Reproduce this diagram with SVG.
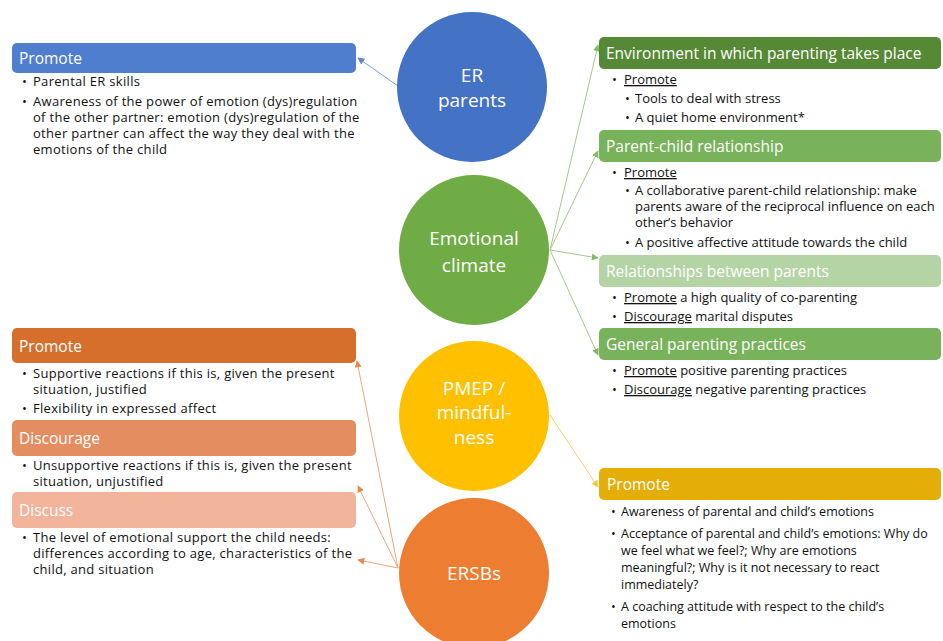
<svg xmlns="http://www.w3.org/2000/svg" width="943" height="641" viewBox="0 0 943 641">
<style>
.t{font-family:"Open Sans","Liberation Sans",Arial,sans-serif;font-size:13px;fill:#111}
.l{font-size:13px;letter-spacing:0.3px}
.y{font-size:12.5px}
.h{font-family:"Open Sans","Liberation Sans",Arial,sans-serif;font-size:15.5px;fill:#fff}
.c{font-family:"Open Sans","Liberation Sans",Arial,sans-serif;font-size:19px;fill:#fff;text-anchor:middle}
.u{text-decoration:underline}
.ln{fill:none;stroke-width:1}
</style>
<defs>
<marker id="ab" viewBox="0 0 10 10" refX="9" refY="5" markerWidth="7" markerHeight="7" orient="auto"><path d="M0,0L10,5L0,10z" fill="#5B86D0"/></marker>
<marker id="ag" viewBox="0 0 10 10" refX="9" refY="5" markerWidth="7" markerHeight="7" orient="auto"><path d="M0,0L10,5L0,10z" fill="#86B86A"/></marker>
<marker id="ay" viewBox="0 0 10 10" refX="9" refY="5" markerWidth="7" markerHeight="7" orient="auto"><path d="M0,0L10,5L0,10z" fill="#F5C540"/></marker>
<marker id="ao" viewBox="0 0 10 10" refX="9" refY="5" markerWidth="7" markerHeight="7" orient="auto"><path d="M0,0L10,5L0,10z" fill="#E8894A"/></marker>
</defs>
<rect width="943" height="641" fill="#fff"/>

<g id="connectors">
<line class="ln" x1="398" y1="86" x2="358" y2="58" stroke="#7E9ED8" marker-end="url(#ab)"/>
<line class="ln" x1="550" y1="250" x2="598" y2="45" stroke="#A6C890" marker-end="url(#ag)"/>
<line class="ln" x1="550" y1="250" x2="598" y2="151" stroke="#A6C890" marker-end="url(#ag)"/>
<line class="ln" x1="550" y1="250" x2="598" y2="258" stroke="#A6C890" marker-end="url(#ag)"/>
<line class="ln" x1="550" y1="250" x2="598" y2="355" stroke="#A6C890" marker-end="url(#ag)"/>
<line class="ln" x1="550" y1="415" x2="598" y2="487" stroke="#F7CF60" marker-end="url(#ay)"/>
<line class="ln" x1="398" y1="568" x2="357" y2="361" stroke="#EDA678" marker-end="url(#ao)"/>
<line class="ln" x1="398" y1="568" x2="358" y2="486" stroke="#EDA678" marker-end="url(#ao)"/>
<line class="ln" x1="398" y1="568" x2="358" y2="560" stroke="#EDA678" marker-end="url(#ao)"/>
</g>

<g id="er-parents">
<circle cx="472" cy="87" r="75" fill="#4472C4"/>
<text class="c" x="472" y="82">ER</text>
<text class="c" x="472" y="107">parents</text>
</g>
<g id="emotional-climate">
<circle cx="474" cy="250" r="75" fill="#6FAC46"/>
<text class="c" x="474" y="245">Emotional</text>
<text class="c" x="474" y="272">climate</text>
</g>
<g id="pmep">
<circle cx="474" cy="416" r="75" fill="#FFC000"/>
<text class="c" x="474" y="395">PMEP /</text>
<text class="c" x="474" y="419">mindful-</text>
<text class="c" x="474" y="444">ness</text>
</g>
<g id="ersbs">
<circle cx="474" cy="573" r="75" fill="#ED7D31"/>
<text class="c" x="474" y="580">ERSBs</text>
</g>

<g id="er-promote">
<rect x="12" y="43" width="344" height="30" rx="5" fill="#4F7ECE"/>
<text class="h" x="19" y="64">Promote</text>
<text class="t l" x="22" y="86">•</text><text class="t l" x="33" y="86">Parental ER skills</text>
<text class="t l" x="22" y="106">•</text><text class="t l" x="33" y="106">Awareness of the power of emotion (dys)regulation</text>
<text class="t l" x="33" y="122">of the other partner: emotion (dys)regulation of the</text>
<text class="t l" x="33" y="138">other partner can affect the way they deal with the</text>
<text class="t l" x="33" y="154">emotions of the child</text>
</g>

<g id="environment">
<rect x="599" y="37" width="342" height="32" rx="5" fill="#568935"/>
<text class="h" x="606" y="59">Environment in which parenting takes place</text>
<text class="t" x="612" y="84">•</text><text class="t u" x="624" y="84">Promote</text>
<text class="t" x="625" y="103">•</text><text class="t" x="635" y="103">Tools to deal with stress</text>
<text class="t" x="625" y="122">•</text><text class="t" x="635" y="122">A quiet home environment*</text>
</g>

<g id="parent-child">
<rect x="599" y="130" width="342" height="32" rx="5" fill="#78B25A"/>
<text class="h" x="606" y="152">Parent-child relationship</text>
<text class="t" x="612" y="177">•</text><text class="t u" x="624" y="177">Promote</text>
<text class="t" x="625" y="195">•</text><text class="t" x="635" y="195">A collaborative parent-child relationship: make</text>
<text class="t" x="635" y="211">parents aware of the reciprocal influence on each</text>
<text class="t" x="635" y="227">other’s behavior</text>
<text class="t" x="625" y="247">•</text><text class="t" x="635" y="247">A positive affective attitude towards the child</text>
</g>

<g id="relationships">
<rect x="599" y="255" width="342" height="32" rx="5" fill="#B5D4A5"/>
<text class="h" x="606" y="277">Relationships between parents</text>
<text class="t" x="612" y="302">•</text><text class="t" x="624" y="302"><tspan class="u">Promote</tspan> a high quality of co-parenting</text>
<text class="t" x="612" y="321">•</text><text class="t" x="624" y="321"><tspan class="u">Discourage</tspan> marital disputes</text>
</g>

<g id="general">
<rect x="599" y="328" width="342" height="32" rx="5" fill="#78B25A"/>
<text class="h" x="606" y="350">General parenting practices</text>
<text class="t" x="612" y="375">•</text><text class="t" x="624" y="375"><tspan class="u">Promote</tspan> positive parenting practices</text>
<text class="t" x="612" y="394">•</text><text class="t" x="624" y="394"><tspan class="u">Discourage</tspan> negative parenting practices</text>
</g>

<g id="pmep-promote">
<rect x="599" y="468" width="342" height="32" rx="5" fill="#E5AD07"/>
<text class="h" x="607" y="490">Promote</text>
<text class="t y" x="611" y="516">•</text><text class="t y" x="621" y="516">Awareness of parental and child’s emotions</text>
<text class="t y" x="611" y="538">•</text><text class="t y" x="621" y="538">Acceptance of parental and child’s emotions: Why do</text>
<text class="t y" x="621" y="555">we feel what we feel?; Why are emotions</text>
<text class="t y" x="621" y="572">meaningful?; Why is it not necessary to react</text>
<text class="t y" x="621" y="589">immediately?</text>
<text class="t y" x="611" y="611">•</text><text class="t y" x="621" y="611">A coaching attitude with respect to the child’s</text>
<text class="t y" x="621" y="628">emotions</text>
</g>

<g id="ersb-promote">
<rect x="12" y="328" width="344" height="35" rx="5" fill="#D76F2C"/>
<text class="h" x="19" y="352">Promote</text>
<text class="t l" x="22" y="378">•</text><text class="t l" x="33" y="378">Supportive reactions if this is, given the present</text>
<text class="t l" x="33" y="394">situation, justified</text>
<text class="t l" x="22" y="413">•</text><text class="t l" x="33" y="413">Flexibility in expressed affect</text>
</g>

<g id="ersb-discourage">
<rect x="12" y="420" width="344" height="36" rx="5" fill="#E48D60"/>
<text class="h" x="19" y="444">Discourage</text>
<text class="t l" x="22" y="470">•</text><text class="t l" x="33" y="470">Unsupportive reactions if this is, given the present</text>
<text class="t l" x="33" y="486">situation, unjustified</text>
</g>

<g id="ersb-discuss">
<rect x="12" y="492" width="344" height="36" rx="5" fill="#F2B49B"/>
<text class="h" x="19" y="516">Discuss</text>
<text class="t l" x="22" y="542">•</text><text class="t l" x="33" y="542">The level of emotional support the child needs:</text>
<text class="t l" x="33" y="558">differences according to age, characteristics of the</text>
<text class="t l" x="33" y="574">child, and situation</text>
</g>
</svg>
